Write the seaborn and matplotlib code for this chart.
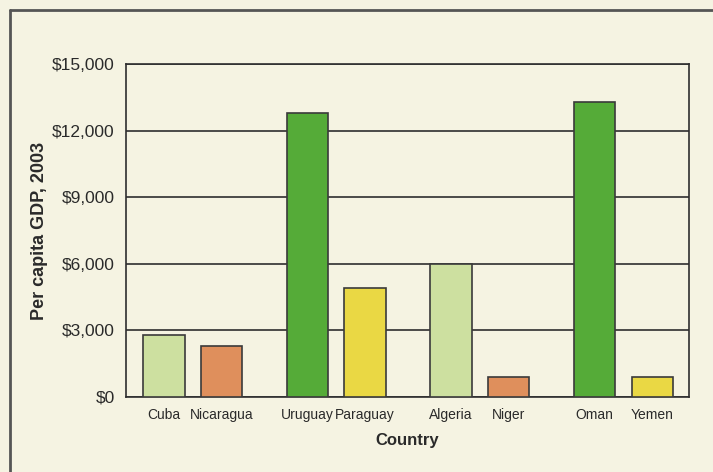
import seaborn as sns
import pandas as pd
import matplotlib.pyplot as plt
from matplotlib.lines import Line2D
from matplotlib.ticker import FuncFormatter

# Per capita GDP 2003
countries = ['Cuba', 'Nicaragua', 'Uruguay', 'Paraguay', 'Algeria', 'Niger', 'Oman', 'Yemen']
gdp = [2800, 2300, 12800, 4900, 6000, 900, 13300, 900]
shade = ['light', 'orange', 'green', 'yellow', 'light', 'orange', 'green', 'yellow']
# bars come in pairs, with a wider gap between pairs
positions = [0, 1, 2.5, 3.5, 5, 6, 7.5, 8.5]
yticks = [0, 3000, 6000, 9000, 12000, 15000]

palette = {'light': '#cde0a0', 'orange': '#df8f5c', 'green': '#55ab38', 'yellow': '#ead844'}
bg = '#f5f3e2'

sns.set_theme(style='white')
plt.rcParams['font.family'] = ['Liberation Sans', 'DejaVu Sans']

df = pd.DataFrame({'pos': positions, 'gdp': gdp, 'shade': shade})

fig = plt.figure(figsize=(7.13, 4.72), dpi=100, facecolor=bg)
ax = fig.add_axes([0.1767, 0.1589, 0.7896, 0.7055])
ax.set_facecolor(bg)

sns.barplot(data=df, x='pos', y='gdp', hue='shade', palette=palette,
            native_scale=True, dodge=False, width=0.72, saturation=1,
            edgecolor='#3a3a3a', linewidth=1.2, legend=False, ax=ax, zorder=3)

# Format plot
ax.set_ylim(0, 15000)
ax.set_xlim(-0.66, 9.14)
ax.set_yticks(yticks)
ax.yaxis.set_major_formatter(FuncFormatter(lambda v, p: '${:,.0f}'.format(v)))
ax.set_xticks(positions)
ax.set_xticklabels(countries, fontsize=10)
ax.tick_params(axis='y', length=0, pad=8, labelsize=12.5, labelcolor='#2a2a2a')
ax.tick_params(axis='x', length=0, pad=8, labelcolor='#2a2a2a')
ax.yaxis.grid(True, color='#2e2e2e', linewidth=1.2, zorder=1)
ax.set_axisbelow(True)
for s in ax.spines.values():
    s.set_color('#2e2e2e')
    s.set_linewidth(1.2)

ax.set_xlabel('Country', fontsize=12, fontweight='bold', color='#2a2a2a', labelpad=8)
ax.set_ylabel('Per capita GDP, 2003', fontsize=13, fontweight='bold', color='#2a2a2a', labelpad=3)

# page frame: top and left edges
fig.add_artist(Line2D([10 / 713, 1], [1 - 10 / 472, 1 - 10 / 472], color='#555555', linewidth=2))
fig.add_artist(Line2D([10 / 713, 10 / 713], [0, 1 - 10 / 472], color='#555555', linewidth=2))

fig.savefig('out.png', dpi=100, facecolor=bg)
